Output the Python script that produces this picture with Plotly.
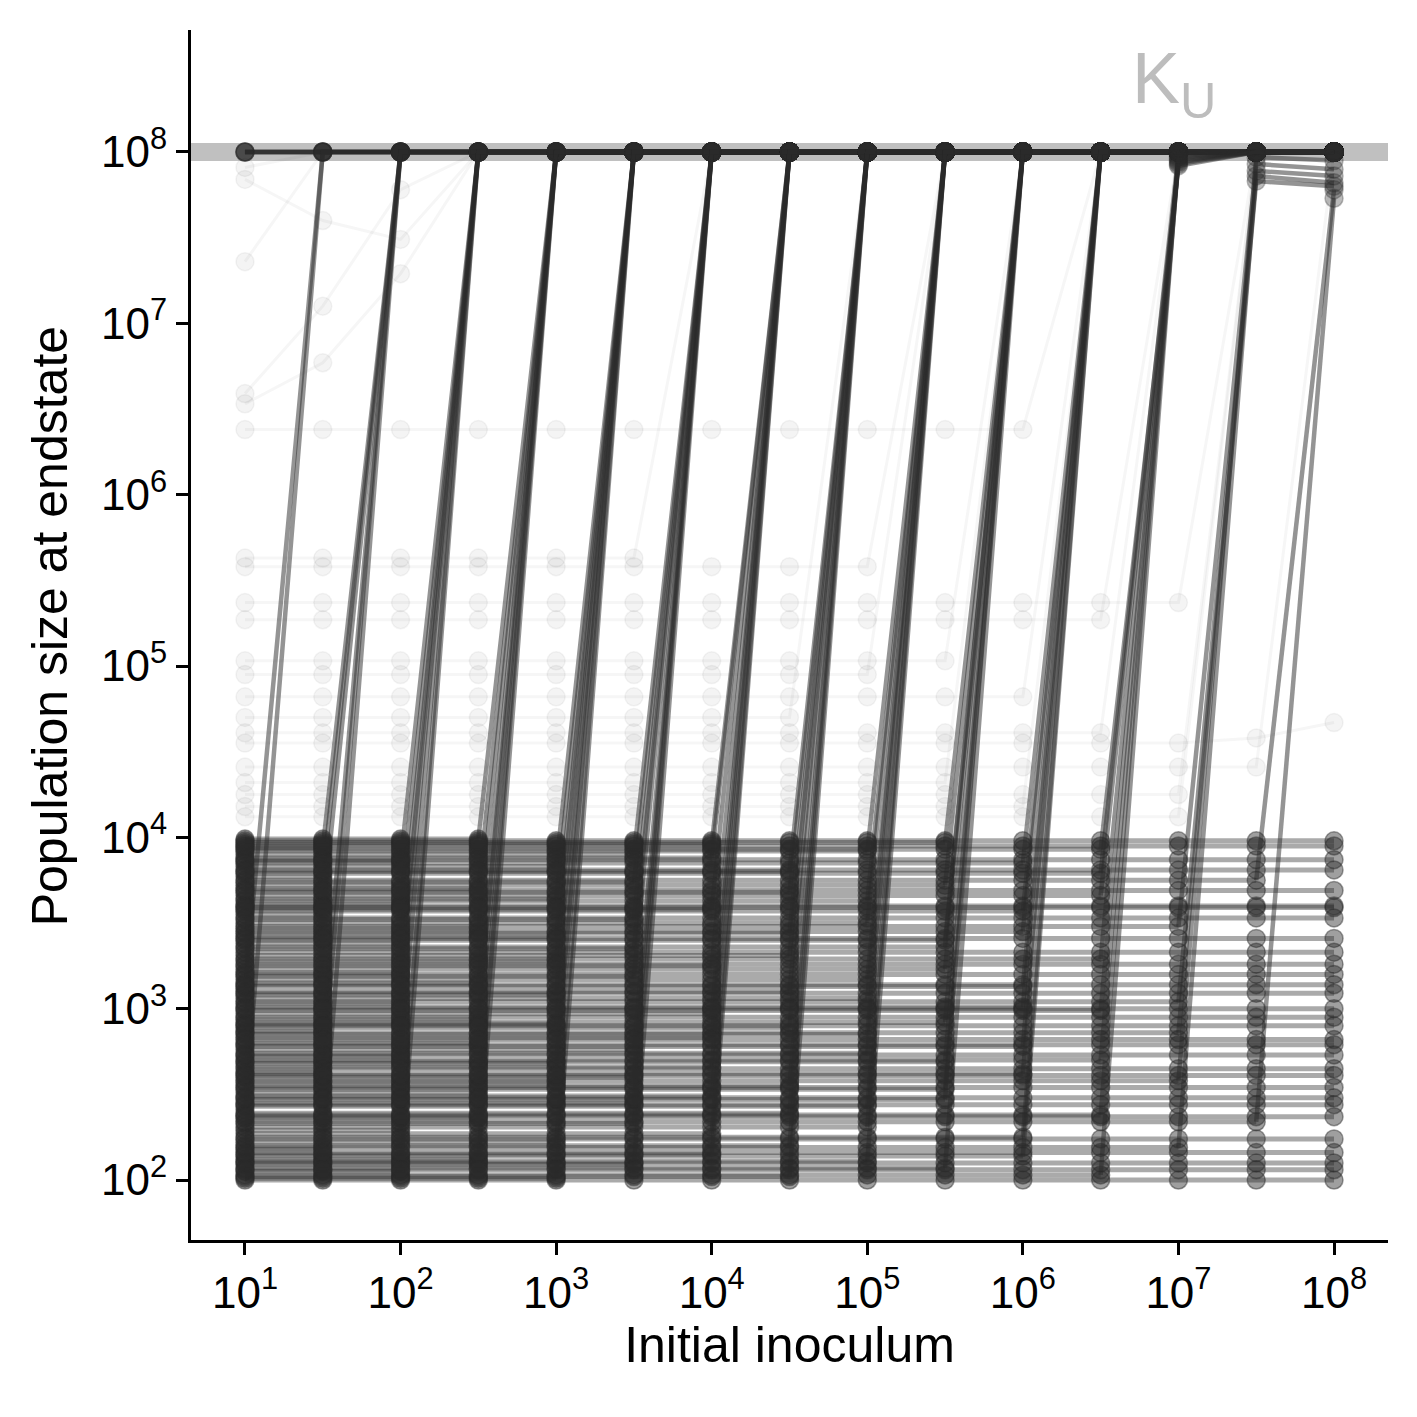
import math
import plotly.graph_objects as go

# ---------------- data ----------------
inoculum_log10 = [1.0, 1.5, 2.0, 2.5, 3.0, 3.5, 4.0, 4.5, 5.0, 5.5, 6.0, 6.5, 7.0, 7.5, 8.0]
K_U = 1e8

# column (1-based) at which a run first reaches K_U; None = stays in the low state
first_high_col = [1, 2, 3, 4, 5, 6, 7, 8, 9, 10, 11, 12, 13, 14, 15, None]
runs_per_first_high_col = [4, 2, 6, 8, 9, 10, 10, 10, 10, 10, 10, 9, 8, 5, 2, 31]

# low endstate (log10) of each run that starts below K_U, in order of the groups above
low_state_log10 = [
    3.12, 2.41, 3.77, 2.18, 3.55, 2.87, 3.94, 2.63, 3.21, 2.05, 3.38, 2.72, 3.86, 2.29,
    3.03, 3.61, 2.51, 2.94, 3.47, 2.12, 3.70, 2.36, 3.15, 2.80, 3.99, 2.57, 3.28, 2.01,
    3.83, 2.68, 3.42, 2.22, 3.08, 2.91, 3.64, 2.45, 3.90, 2.76, 3.19, 2.33, 3.52, 2.09,
    3.74, 2.60, 3.35, 2.97, 2.15, 3.88, 2.49, 3.25, 2.83, 3.58, 2.27, 3.96, 2.66, 3.10,
    2.39, 3.68, 2.02, 3.44, 2.89, 3.31, 2.55, 3.80, 2.20, 3.06, 2.74, 3.50, 2.43, 3.92,
    2.11, 3.17, 2.85, 3.63, 2.31, 3.40, 2.69, 3.97, 2.53, 3.23, 2.07, 3.72, 2.92, 3.36,
    2.47, 3.85, 2.25, 3.01, 2.78, 3.57, 2.14, 3.45, 2.62, 3.13, 3.79, 2.38, 2.99, 3.66,
    2.03, 3.29, 2.70, 3.93, 2.58, 3.48, 2.19, 3.04, 2.86, 3.75, 2.34, 3.60, 2.95, 2.10,
    3.87, 2.44, 3.20, 2.65, 3.53, 2.24, 3.98, 2.79, 3.33, 2.54, 3.09, 2.16, 3.69, 2.90,
    3.41, 2.00, 3.81, 2.61, 3.26, 2.37, 3.95, 2.73, 3.14, 2.48, 3.59, 2.06, 3.00, 2.82,
]

# runs that only just reached the upper state at the largest inocula sit slightly below K_U (log10)
high_first13_at_col13 = [7.99, 7.97, 7.95, 7.93, 7.98, 7.96, 7.94, 7.92]
high_first14_at_col14 = [7.97, 7.93, 7.89, 7.86, 7.83]
high_first14_at_col15 = [7.95, 7.90, 7.86, 7.82, 7.80]
high_first15_at_col15 = [7.78, 7.73]

# faint runs: intermediate plateau (log10) and last column before reaching K_U
faint_level_log10 = [6.38, 5.58, 5.37, 5.27, 5.03, 4.95, 4.82, 4.70, 4.61, 4.41, 4.32, 4.25, 4.18, 4.12]
faint_last_low_col = [11, 9, 13, 12, 10, 9, 11, 8, 12, 14, 10, 13, 11, 13]

# faint runs with irregular trajectories (log10 per column)
faint_irregular_log10 = [
    [7.36, 8.00, 8.00, 8.00, 8.00, 8.00, 8.00, 8.00, 8.00, 8.00, 8.00, 8.00, 8.00, 8.00, 8.00],
    [6.59, 7.10, 7.78, 8.00, 8.00, 8.00, 8.00, 8.00, 8.00, 8.00, 8.00, 8.00, 8.00, 8.00, 8.00],
    [6.53, 6.77, 7.29, 8.00, 8.00, 8.00, 8.00, 8.00, 8.00, 8.00, 8.00, 8.00, 8.00, 8.00, 8.00],
    [7.91, 8.00, 8.00, 8.00, 8.00, 8.00, 8.00, 8.00, 8.00, 8.00, 8.00, 8.00, 8.00, 8.00, 8.00],
    [7.84, 7.60, 7.49, 8.00, 8.00, 8.00, 8.00, 8.00, 8.00, 8.00, 8.00, 8.00, 8.00, 8.00, 8.00],
    [4.55, 4.55, 4.55, 4.55, 4.55, 4.55, 4.55, 4.55, 4.55, 4.55, 4.55, 4.55, 4.55, 4.58, 4.67],
    [5.63, 5.63, 5.63, 5.63, 5.63, 5.63, 8.00, 8.00, 8.00, 8.00, 8.00, 8.00, 8.00, 8.00, 8.00],
]

x_tick_exp = [1, 2, 3, 4, 5, 6, 7, 8]
y_tick_exp = [2, 3, 4, 5, 6, 7, 8]

# ---------------- styling ----------------
PLATEAU_LINE = 'rgba(42,42,42,0.40)'
JUMP_LINE = 'rgba(42,42,42,0.50)'
MAIN_MARK = 'rgba(42,42,42,0.45)'
FAINT_LINE = 'rgba(42,42,42,0.045)'
FAINT_MARK = 'rgba(42,42,42,0.05)'
FONT = 'Liberation Sans, Arial, Helvetica, sans-serif'
MSIZE = 18
X_RANGE = [0.653, 8.347]
Y_RANGE = [1.65, 8.712]

x_vals = [10 ** v for v in inoculum_log10]
ncol = len(inoculum_log10)
counters = {13: 0, 14: 0, 15: 0}


def high_values(j):
    """log10 endstate at columns j..ncol for a run first reaching K_U at column j."""
    vals = [8.0] * (ncol - j + 1)
    if j == 13:
        vals[0] = high_first13_at_col13[counters[13] % len(high_first13_at_col13)]
        counters[13] += 1
    elif j == 14:
        i = counters[14] % len(high_first14_at_col14)
        vals[0] = high_first14_at_col14[i]
        vals[1] = high_first14_at_col15[i]
        counters[14] += 1
    elif j == 15:
        vals[0] = high_first15_at_col15[counters[15] % len(high_first15_at_col15)]
        counters[15] += 1
    return vals


fig = go.Figure()

# K_U reference band (behind everything)
ku_frac = (math.log10(K_U) - Y_RANGE[0]) / (Y_RANGE[1] - Y_RANGE[0])
fig.add_shape(type='line', xref='paper', x0=0, x1=1, yref='paper',
              y0=ku_frac, y1=ku_frac, layer='below',
              line=dict(color='#c0c0c0', width=18))

# faint runs (underneath)
faint_kw = dict(mode='lines+markers', line=dict(color=FAINT_LINE, width=3),
                marker=dict(size=MSIZE, color=FAINT_MARK, line=dict(color=FAINT_MARK, width=1.5)),
                hoverinfo='skip')
for lvl, last in zip(faint_level_log10, faint_last_low_col):
    ys = [10 ** lvl if c <= last else K_U for c in range(1, ncol + 1)]
    fig.add_trace(go.Scatter(x=x_vals, y=ys, **faint_kw))
for traj in faint_irregular_log10:
    fig.add_trace(go.Scatter(x=x_vals, y=[10 ** v for v in traj], **faint_kw))

# main runs: low plateau part and the jump/high part
low_idx = 0
for j, n in zip(first_high_col, runs_per_first_high_col):
    for _ in range(n):
        last_low = 0 if j == 1 else (ncol if j is None else j - 1)
        low = None
        if last_low > 0:
            low = low_state_log10[low_idx]
            low_idx += 1
            fig.add_trace(go.Scatter(
                x=x_vals[:last_low], y=[10 ** low] * last_low,
                mode='lines+markers',
                line=dict(color=PLATEAU_LINE, width=5),
                marker=dict(size=MSIZE, color=MAIN_MARK, line=dict(color=MAIN_MARK, width=1.5)),
                hoverinfo='skip'))
        if j is not None:
            hx, hy, hs = [], [], []
            if last_low > 0:
                hx.append(x_vals[last_low - 1])
                hy.append(10 ** low)
                hs.append(0)
            for c, v in zip(range(j, ncol + 1), high_values(j)):
                hx.append(x_vals[c - 1])
                hy.append(10 ** v)
                hs.append(MSIZE)
            fig.add_trace(go.Scatter(
                x=hx, y=hy, mode='lines+markers',
                line=dict(color=JUMP_LINE, width=4.5),
                marker=dict(size=hs, color=MAIN_MARK, line=dict(color=MAIN_MARK, width=1.5)),
                hoverinfo='skip'))

fig.add_annotation(x=6.97, y=8.40, xref='x', yref='y', showarrow=False,
                   text='K<sub>U</sub>', font=dict(size=72, color='#bdbdbd', family=FONT),
                   xanchor='center', yanchor='middle')

# y-axis title placed as a rotated text
fig.add_annotation(x=-0.118, y=0.507, xref='paper', yref='paper', showarrow=False,
                   text='Population size at endstate', textangle=-90,
                   font=dict(size=50, family=FONT, color='black'),
                   xanchor='center', yanchor='middle')

fig.update_layout(
    width=1417, height=1417,
    margin=dict(l=191, r=29, t=30, b=177, autoexpand=False),
    plot_bgcolor='white', paper_bgcolor='white', showlegend=False,
    font=dict(family=FONT, color='black'),
)

axis_common = dict(
    type='log', ticks='outside', ticklen=12, tickwidth=3, tickcolor='black',
    showline=True, linewidth=3, linecolor='black',
    showgrid=False, zeroline=False,
    tickfont=dict(size=44, family=FONT, color='black'),
)
fig.update_xaxes(
    range=X_RANGE,
    tickvals=[10 ** e for e in x_tick_exp],
    ticktext=[f'10<sup>{e}</sup>' for e in x_tick_exp],
    title=dict(text='Initial inoculum', font=dict(size=50, family=FONT, color='black'), standoff=12),
    **axis_common,
)
fig.update_yaxes(
    range=Y_RANGE,
    tickvals=[10 ** e for e in y_tick_exp],
    ticktext=[f'10<sup>{e}</sup>' for e in y_tick_exp],
    **axis_common,
)

fig.write_html('out.html', config={'displayModeBar': False},
               post_script="document.body.style.margin='0';")
